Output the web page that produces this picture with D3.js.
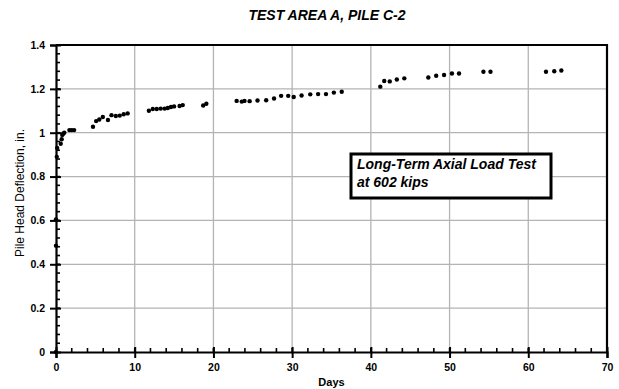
<!DOCTYPE html>
<html>
<head>
<meta charset="utf-8">
<script src="https://cdn.jsdelivr.net/npm/d3@7"></script>
<style>
  body { margin: 0; background: #fff; }
  svg { display: block; font-family: "Liberation Sans", Arial, sans-serif; }
</style>
</head>
<body>
<div id="chart"></div>
<script>
// long-term axial load test, pile head deflection vs time
var width = 619, height = 389;

// data
var days = [0, 0, 0, 0.1, 0.15, 0.6, 0.72, 0.8, 0.9, 1.05, 1.7, 2.0, 2.3,
  4.7, 5.1, 5.5, 5.95, 6.6, 7.05, 7.6, 8.1, 8.6, 9.1,
  11.8, 12.3, 12.8, 13.3, 13.8, 14.2, 14.6, 15.0, 15.7, 16.1,
  18.7, 19.1,
  22.95, 23.6, 23.95, 24.6, 25.6, 26.7, 27.7, 28.6, 29.5, 30.2, 31.2, 32.3, 33.3, 34.3, 35.3, 36.3,
  41.2, 41.7, 42.4, 43.3, 44.25,
  47.3, 48.3, 49.3, 50.3, 51.2,
  54.3, 55.2,
  62.25, 63.3, 64.2];
var deflection = [0, 0.485, 0.605, 0.89, 0.93, 0.95, 0.97, 0.99, 0.995, 1.0, 1.012, 1.012, 1.012,
  1.027, 1.053, 1.06, 1.072, 1.058, 1.08, 1.076, 1.078, 1.084, 1.088,
  1.1, 1.108, 1.108, 1.11, 1.11, 1.113, 1.117, 1.12, 1.122, 1.126,
  1.124, 1.132,
  1.145, 1.142, 1.145, 1.144, 1.147, 1.148, 1.156, 1.168, 1.168, 1.163, 1.17, 1.175, 1.176, 1.176, 1.183, 1.187,
  1.21, 1.236, 1.234, 1.243, 1.248,
  1.252, 1.26, 1.263, 1.27, 1.27,
  1.278, 1.278,
  1.278, 1.28, 1.284];

var xTicks = [0, 10, 20, 30, 40, 50, 60, 70];
var yTicks = [0, 0.2, 0.4, 0.6, 0.8, 1, 1.2, 1.4];
var title = "TEST AREA A, PILE C-2";
var xTitle = "Days";
var yTitle = "Pile Head Deflection, in.";
var note = ["Long-Term Axial Load Test", "at 602 kips"];

var points = days.map(function(d, i) { return {day: d, value: deflection[i]}; });

var svg = d3.select("#chart").append("svg")
    .attr("width", width).attr("height", height);

var x = d3.scaleLinear().domain([0, 70]).range([56, 607]);
var y = d3.scaleLinear().domain([0, 1.4]).range([352, 45]);

// grid lines
svg.append("g").selectAll("line.v").data(xTicks.slice(1, -1)).enter().append("line")
    .attr("x1", function(d){ return x(d); }).attr("x2", function(d){ return x(d); })
    .attr("y1", y(1.4)).attr("y2", y(0))
    .attr("stroke", "#b4b4b4").attr("stroke-width", 1.3);
svg.append("g").selectAll("line.h").data(yTicks.slice(1, -1)).enter().append("line")
    .attr("x1", x(0)).attr("x2", x(70))
    .attr("y1", function(d){ return y(d); }).attr("y2", function(d){ return y(d); })
    .attr("stroke", "#b4b4b4").attr("stroke-width", 1.3);

// frame
svg.append("path")
    .attr("d", "M" + x(0) + "," + y(1.4) + "H" + x(70) + "V" + y(0))
    .attr("fill", "none").attr("stroke", "#000").attr("stroke-width", 2.2);

// minor ticks (inside)
svg.append("g").selectAll("line").data(d3.range(2, 70, 2)).enter().append("line")
    .attr("x1", function(d){ return x(d); }).attr("x2", function(d){ return x(d); })
    .attr("y1", y(0)).attr("y2", y(0) - 4)
    .attr("stroke", "#000").attr("stroke-width", 1.6);
svg.append("g").selectAll("line").data(d3.range(1, 35).map(function(i){ return i * 0.04; })).enter().append("line")
    .attr("x1", x(0)).attr("x2", x(0) + 4)
    .attr("y1", function(d){ return y(d); }).attr("y2", function(d){ return y(d); })
    .attr("stroke", "#000").attr("stroke-width", 1.6);

// axes
var xAxis = d3.axisBottom(x).tickValues(xTicks).tickSize(6).tickPadding(4)
    .tickFormat(d3.format("d"));
var gx = svg.append("g").attr("transform", "translate(0," + y(0) + ")").call(xAxis);
var yAxis = d3.axisLeft(y).tickValues(yTicks).tickSize(6).tickPadding(5)
    .tickFormat(function(d){ return d === 0 ? "0" : d3.format("")(+d.toFixed(1)); });
var gy = svg.append("g").attr("transform", "translate(" + x(0) + ",0)").call(yAxis);

[gx, gy].forEach(function(g) {
  g.select(".domain").attr("stroke", "#000").attr("stroke-width", 2.2);
  g.selectAll(".tick line").attr("stroke", "#000").attr("stroke-width", 2);
  g.selectAll(".tick text").attr("fill", "#000")
      .style("font-size", "10.5px").style("font-weight", "bold")
      .style("font-family", "'Liberation Sans', Arial, sans-serif");
});
// major ticks cross the axis
gx.selectAll(".tick line").attr("y1", -5);
gy.selectAll(".tick line").attr("x1", 5);
gx.selectAll(".tick text").attr("dy", "0.9em");

// data points
svg.append("g").selectAll("circle").data(points).enter().append("circle")
    .attr("cx", function(d){ return x(d.day); })
    .attr("cy", function(d){ return y(d.value); })
    .attr("r", 2.2).attr("fill", "#000");

// titles
svg.append("text").attr("x", 327).attr("y", 20).attr("text-anchor", "middle")
    .style("font-size", "14px").style("font-weight", "bold").style("font-style", "italic")
    .text(title);
svg.append("text").attr("x", x(35)).attr("y", 386).attr("text-anchor", "middle")
    .style("font-size", "11px").style("font-weight", "bold")
    .text(xTitle);
svg.append("text").attr("transform", "translate(24," + 193 + ") rotate(-90)")
    .attr("text-anchor", "middle")
    .style("font-size", "12px")
    .text(yTitle);

// annotation box
var box = svg.append("g").attr("transform", "translate(351,154)");
box.append("rect").attr("width", 200).attr("height", 44)
    .attr("fill", "#fff").attr("stroke", "#000").attr("stroke-width", 3);
box.selectAll("text").data(note).enter().append("text")
    .attr("x", 6).attr("y", function(d, i){ return 15 + i * 18; })
    .style("font-size", "14px").style("font-weight", "bold").style("font-style", "italic")
    .text(function(d){ return d; });
</script>
</body>
</html>
